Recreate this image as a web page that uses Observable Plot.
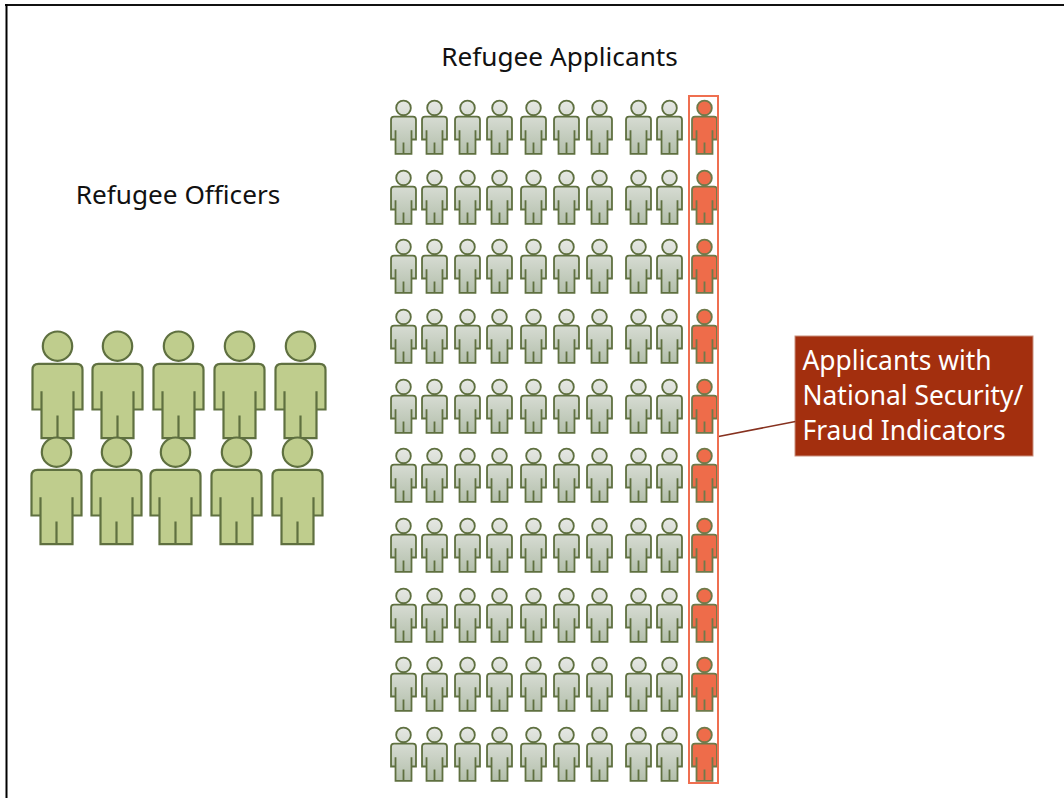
<!DOCTYPE html>
<html><head><meta charset="utf-8">
<script src="https://cdn.jsdelivr.net/npm/d3@7"></script>
<script src="https://cdn.jsdelivr.net/npm/@observablehq/plot@0.6"></script>
<style>html,body{margin:0;padding:0;background:#fff;overflow:hidden}svg{display:block}</style>
</head><body><div id="chart"></div>
<script>
const applicantCols = [403, 434, 467, 499, 533, 566, 599, 638, 669, 704];
const applicantRows = [127, 197, 266, 336, 406, 475, 545, 615, 684, 754];
const officerRow1 = [57, 117, 178, 239, 300];
const officerRow2 = [56, 116, 175, 236, 297];
const officerY = [385, 491];
const titles = [
  {label: "Refugee Applicants", x: 559, y: 57},
  {label: "Refugee Officers", x: 177.5, y: 195}
];
const calloutLines = ["Applicants with", "National Security/", "Fraud Indicators"];
const calloutLineY = [361, 396, 431];

const person = {
  draw(c, size) {
    const u = Math.sqrt(size / Math.PI) / 52.5;
    const P = (x, y) => [x * u, y * u];
    const m = (x, y) => c.moveTo(...P(x, y));
    const l = (x, y) => c.lineTo(...P(x, y));
    const q = (a, b, x, y) => c.quadraticCurveTo(a * u, b * u, x * u, y * u);
    c.moveTo(14.7 * u, -39.3 * u);
    c.arc(0, -39.3 * u, 14.7 * u, 0, Math.PI * 2);
    c.closePath();
    m(-19, -21.7);
    l(19, -21.7); q(25, -21.7, 25, -15.7);
    l(25, 24); l(16, 24); l(16, 52.7); l(-16, 52.7); l(-16, 24); l(-25, 24);
    l(-25, -15.7); q(-25, -21.7, -19, -21.7);
    c.closePath();
    m(-16, 24); l(-16, 5.7);
    m(16, 24); l(16, 5.7);
    m(0, 52.7); l(0, 30);
  }
};

const applicants = applicantRows.flatMap(y => applicantCols.map((x, i) => ({x, y, flagged: i === applicantCols.length - 1})));
const officers = [
  ...officerRow1.map(x => ({x, y: officerY[0]})),
  ...officerRow2.map(x => ({x, y: officerY[1]}))
];
const calloutText = calloutLines.map((label, i) => ({label, x: 802, y: calloutLineY[i]}));

const font = "'Noto Sans', sans-serif";
const chart = Plot.plot({
  width: 1064, height: 798,
  margin: 0,
  x: {domain: [0, 1064], range: [0, 1064], axis: null},
  y: {domain: [0, 798], range: [0, 798], axis: null},
  marks: [
    Plot.ruleY([4.5], {x1: 5, x2: 1064, stroke: "#111", strokeWidth: 2}),
    Plot.ruleX([6], {y1: 4, y2: 798, stroke: "#000", strokeWidth: 2}),
    Plot.rect([{x1: 795, x2: 1033, y1: 336, y2: 456}], {x1: "x1", x2: "x2", y1: "y1", y2: "y2", fill: "#a32f0e", stroke: "#c98f7c", strokeWidth: 1}),
    Plot.link([{x1: 718, y1: 436, x2: 795, y2: 421}], {x1: "x1", y1: "y1", x2: "x2", y2: "y2", stroke: "#86311f", strokeWidth: 1.5}),
    Plot.dot(officers, {x: "x", y: "y", r: 52.5, symbol: person, fill: "#bfcd8d", stroke: "#5f7040", strokeWidth: 2.2}),
    Plot.dot(applicants.filter(d => !d.flagged), {x: "x", y: "y", r: 26.2, symbol: person, fill: "url(#applicantFill)", stroke: "#5f7040", strokeWidth: 1.8}),
    Plot.dot(applicants.filter(d => d.flagged), {x: "x", y: "y", r: 26.2, symbol: person, fill: "#ee6c4a", stroke: "#6f7a4a", strokeWidth: 1.8}),
    Plot.rect([{x1: 689, x2: 718, y1: 96, y2: 783}], {x1: "x1", x2: "x2", y1: "y1", y2: "y2", fill: "none", stroke: "#ef6f50", strokeWidth: 2}),
    Plot.text(titles, {x: "x", y: "y", text: "label", fontSize: 26.2, fill: "#111", fontFamily: font}),
    Plot.text(calloutText, {x: "x", y: "y", text: "label", textAnchor: "start", fontSize: 26.4, fill: "#fff", fontFamily: font})
  ]
});
const ns = "http://www.w3.org/2000/svg";
const defs = document.createElementNS(ns, "defs");
defs.innerHTML = '<linearGradient id="applicantFill" x1="0" y1="0" x2="0" y2="1"><stop offset="0" stop-color="#e6e8e4"/><stop offset="1" stop-color="#b3bfab"/></linearGradient>';
chart.insertBefore(defs, chart.firstChild);
document.getElementById("chart").appendChild(chart);
</script>
</body></html>
